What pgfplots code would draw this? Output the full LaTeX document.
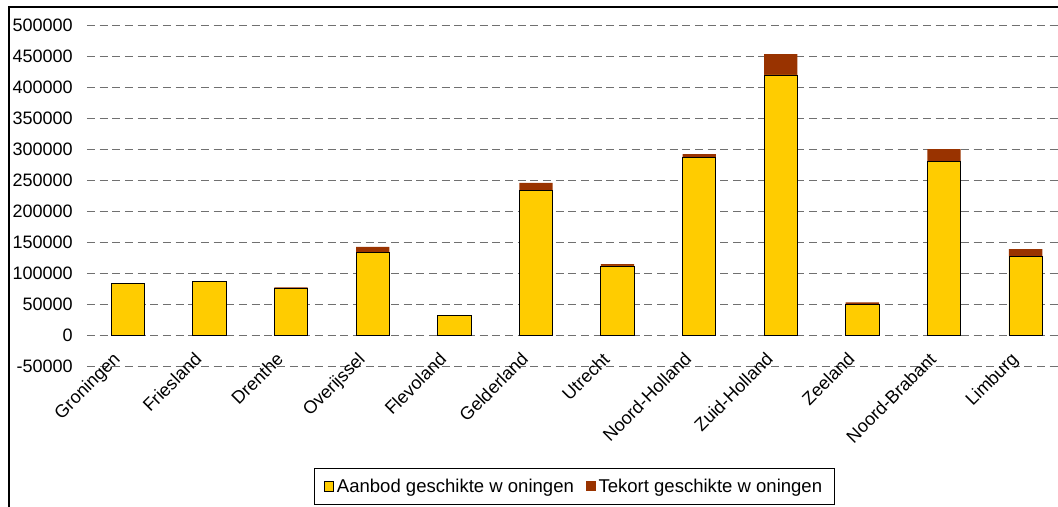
\documentclass[border=0pt]{standalone}
\usepackage{fontspec}
\setmainfont{Liberation Sans}
\usepackage{pgfplots}
\pgfplotsset{compat=1.18}
\definecolor{aanbod}{HTML}{FFCC00}
\definecolor{tekort}{HTML}{993300}
\definecolor{gridc}{HTML}{707070}
\begin{document}
\begin{tikzpicture}
\path[use as bounding box] (-65.25pt,-105.75pt) rectangle (728.25pt,274.5pt);
\clip (-65.25pt,-105.75pt) rectangle (728.25pt,274.5pt);
\draw[line width=1.5pt] (-58.5pt,-120pt) -- (-58.5pt,269.25pt) -- (740pt,269.25pt);
\begin{axis}[
  at={(0pt,0pt)}, anchor=south west,
  scale only axis, width=734.6pt, height=255.75pt,
  ybar stacked, bar width=25pt,
  xmin=-0.5, xmax=11.5, ymin=-50000, ymax=500000,
  xtick={0,1,2,3,4,5,6,7,8,9,10,11},
  xticklabels={Groningen,Friesland,Drenthe,Overijssel,Flevoland,Gelderland,Utrecht,Noord-Holland,Zuid-Holland,Zeeland,Noord-Brabant,Limburg},
  ytick={-50000,0,50000,100000,150000,200000,250000,300000,350000,400000,450000,500000},
  yticklabels={-50000,0,50000,100000,150000,200000,250000,300000,350000,400000,450000,500000},
  scaled y ticks=false,
  axis line style={draw=none},
  major tick length=0pt,
  ymajorgrids,
  grid style={draw=gridc, line width=0.75pt, dash pattern=on 6pt off 3.5pt},
  tick label style={font=\fontsize{13.5}{15}\selectfont},
  yticklabel style={inner sep=0pt, xshift=-10.5pt},
  xticklabel style={inner sep=0pt, xshift=-12pt, yshift=11.25pt, rotate=45, anchor=north east},
  legend style={at={(axis description cs:0.4977,-0.3535)}, anchor=center,
    legend columns=2, draw=black, line width=0.6pt,
    font=\fontsize{13.9}{15}\selectfont, inner ysep=5.8pt, inner xsep=7pt,
    /tikz/every even column/.append style={column sep=7pt}},
  legend cell align=left,
]
\addplot[fill=aanbod, draw=black, line width=0.6pt,
  legend image code/.code={\draw[fill=aanbod, draw=black, line width=0.6pt] (0pt,-3.5pt) rectangle (7pt,3.5pt);}]
  coordinates {(0,83400) (1,86600) (2,75300) (3,133400) (4,31200) (5,233300) (6,111300) (7,286600) (8,419400) (9,49800) (10,279600) (11,127400)};
\addplot[fill=tekort, draw=none,
  legend image code/.code={\fill[tekort] (0pt,-3.5pt) rectangle (7.5pt,4pt);}]
  coordinates {(0,0) (1,0) (2,1700) (3,8600) (4,0) (5,11900) (6,3200) (7,5300) (8,33800) (9,3000) (10,20400) (11,11300)};
\legend{Aanbod geschikte w oningen, Tekort geschikte w oningen}
\end{axis}
\end{tikzpicture}
\end{document}
